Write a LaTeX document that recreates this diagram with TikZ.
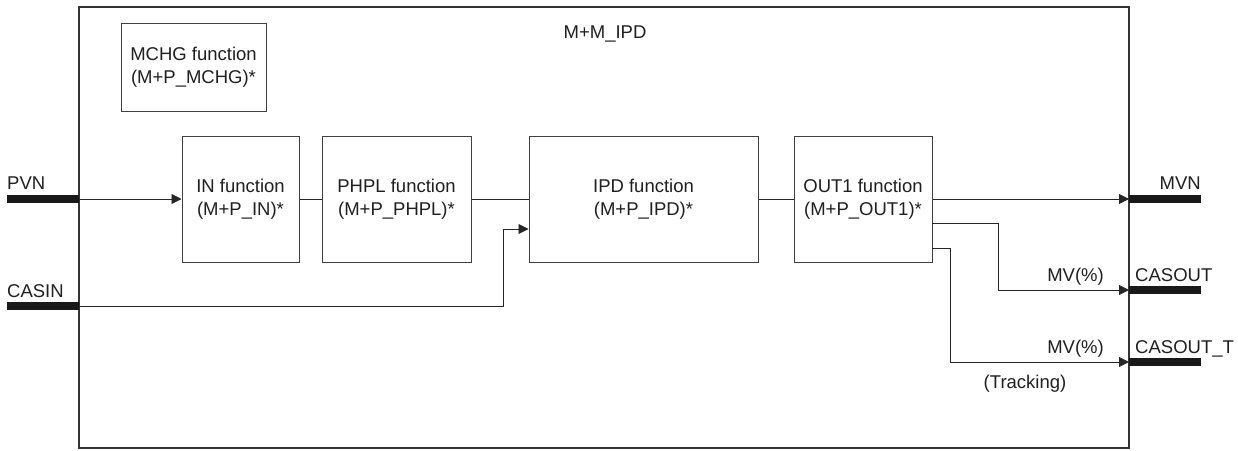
\documentclass[tikz,border=0pt]{standalone}
\usepackage{fontspec}
\setmainfont{Liberation Sans}
\usetikzlibrary{arrows.meta}
\begin{document}
\begin{tikzpicture}[x=1pt,y=-1pt,
  every node/.style={font=\fontsize{18.5}{22.5}\selectfont, text=black!88, inner sep=0pt},
  fbox/.style={draw=black!75, line width=1pt, align=center},
  wire/.style={draw=black!85, line width=0.9pt},
  arr/.style={wire, -{Triangle[length=10pt,width=10pt]}},
  bar/.style={draw=black!90, line width=7.5pt},
  lbl/.style={anchor=base}]
\useasboundingbox (0,0) rectangle (1238,450);
% outer frame
\draw[draw=black!80, line width=1.2pt] (79,7) rectangle (1129,448);
\node[lbl] (title) at (605,38.6) {M+M\_IPD};
% function boxes
\node[fbox, minimum width=145pt, minimum height=88pt] (mchg) at (193.5,67) {MCHG function\\(M+P\_MCHG)*};
\node[fbox, minimum width=117pt, minimum height=126pt] (in) at (240.5,199) {IN function\\(M+P\_IN)*};
\node[fbox, minimum width=149pt, minimum height=126pt] (phpl) at (396.5,199) {PHPL function\\(M+P\_PHPL)*};
\node[fbox, minimum width=229pt, minimum height=126pt] (ipd) at (643.5,199) {IPD function\\(M+P\_IPD)*};
\node[fbox, minimum width=138pt, minimum height=126pt] (out) at (863,199) {OUT1 function\\(M+P\_OUT1)*};
% terminals
\coordinate (pvns) at (7,199);
\coordinate (pvn) at (79,199);
\coordinate (casins) at (7,306);
\coordinate (casin) at (79,306);
\coordinate (mvn) at (1129,199);
\coordinate (mvne) at (1201,199);
\coordinate (cso) at (1129,290);
\coordinate (csoe) at (1201,290);
\coordinate (cst) at (1129,362);
\coordinate (cste) at (1201,362);
\draw[bar] (pvns) -- (pvn);
\draw[bar] (casins) -- (casin);
\draw[bar] (mvn) -- (mvne);
\draw[bar] (cso) -- (csoe);
\draw[bar] (cst) -- (cste);
\node[lbl, anchor=base west] (lpvn) at (7,189.6) {PVN};
\node[lbl, anchor=base west] (lcasin) at (7,297.6) {CASIN};
\node[lbl, anchor=base east] (lmvn) at (1201,189.6) {MVN};
\node[lbl, anchor=base west] (lcso) at (1135,281.6) {CASOUT};
\node[lbl, anchor=base west] (lcst) at (1135,353.6) {CASOUT\_T};
\node[lbl, anchor=base east] (mv1) at (1104,281.6) {MV(\%)};
\node[lbl, anchor=base east] (mv2) at (1104,353.6) {MV(\%)};
\node[lbl] (trk) at (1025,388) {(Tracking)};
% connectors
\draw[arr] (pvn) -- (in.west);
\draw[wire] (in.east) -- (phpl.west);
\draw[wire] (phpl.east) -- (ipd.west);
\draw[wire] (ipd.east) -- (out.west);
\coordinate (cj) at (503,229);
\draw[arr] (casin) -| (cj) -- (cj -| ipd.west);
\draw[arr] (out.east) -- (mvn);
\coordinate (o1) at (932,223);
\coordinate (o2) at (932,248);
\coordinate (k1) at (998,223);
\coordinate (k2) at (950,248);
\draw[arr] (o1) -- (k1) -- (k1 |- cso) -- (cso);
\draw[arr] (o2) -- (k2) -- (k2 |- cst) -- (cst);
\end{tikzpicture}
\end{document}
